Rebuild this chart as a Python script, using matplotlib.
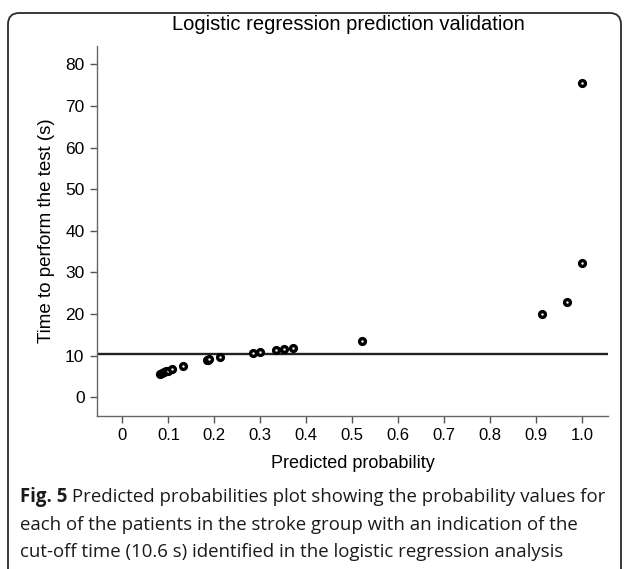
import matplotlib
matplotlib.use("Agg")
import matplotlib.pyplot as plt
from matplotlib.patches import FancyBboxPatch

# ---- data ----
pred_prob = [0.082, 0.086, 0.090, 0.094, 0.098, 0.107, 0.132, 0.183, 0.186, 0.189, 0.213,
             0.285, 0.300, 0.335, 0.352, 0.372, 0.521, 0.914, 0.967, 1.0, 1.0]
time_s = [5.7, 5.9, 6.1, 6.3, 6.4, 6.7, 7.6, 8.9, 9.0, 9.2, 9.6,
          10.7, 10.8, 11.3, 11.5, 11.8, 13.6, 20.1, 22.9, 32.3, 75.4]
cutoff = 10.3
xticks = [0, 0.1, 0.2, 0.3, 0.4, 0.5, 0.6, 0.7, 0.8, 0.9, 1.0]
xtick_labels = ["0", "0.1", "0.2", "0.3", "0.4", "0.5", "0.6", "0.7", "0.8", "0.9", "1.0"]
yticks = [0, 10, 20, 30, 40, 50, 60, 70, 80]

title = "Logistic regression prediction validation"
xlabel = "Predicted probability"
ylabel = "Time to perform the test (s)"
cap_bold = "Fig. 5"
cap_lines = [" Predicted probabilities plot showing the probability values for",
             "each of the patients in the stroke group with an indication of the",
             "cut-off time (10.6 s) identified in the logistic regression analysis"]

W, H = 625, 569
fig = plt.figure(figsize=(W / 100, H / 100), dpi=100)
fig.patch.set_facecolor("white")

# rounded frame
frame = FancyBboxPatch((8 / W, -0.05), (621 - 8) / W, (H - 13) / H + 0.05,
                       boxstyle="round,pad=0,rounding_size=0.018",
                       transform=fig.transFigure, fill=False,
                       edgecolor="#2a2a2a", linewidth=1.3, mutation_aspect=W / H)
fig.patches.append(frame)

ax = fig.add_axes([97 / W, 1 - 416 / H, (608 - 97) / W, (416 - 46) / H])
ax.set_xlim(-0.0555, 1.0568)
ax.set_ylim(-4.49, 84.4)

ax.axhline(cutoff, color="#222222", linewidth=1.7, zorder=2)
ax.plot(pred_prob, time_s, linestyle="none", marker="o", markersize=4.2,
        markerfacecolor="white", markeredgecolor="black", markeredgewidth=2.4,
        zorder=3, clip_on=False)

for side in ["top", "right"]:
    ax.spines[side].set_visible(False)
for side in ["left", "bottom"]:
    ax.spines[side].set_color("#666666")
    ax.spines[side].set_linewidth(1.0)

font = "Liberation Sans"
ax.set_xticks(xticks)
ax.set_xticklabels(xtick_labels, fontfamily=font, fontsize=12)
ax.set_yticks(yticks)
ax.set_yticklabels([str(v) for v in yticks], fontfamily=font, fontsize=12.5)
ax.tick_params(direction="out", length=5, width=1.0, color="#555555", pad=4,
               labelcolor="black")

ax.set_xlabel(xlabel, fontfamily=font, fontsize=13, labelpad=8)
ax.set_ylabel(ylabel, fontfamily=font, fontsize=13.5, labelpad=7)

fig.text(348 / W, 1 - 24 / H, title, fontfamily=font, fontsize=14.5,
         ha="center", va="center")

# caption
cap_font = "Open Sans"
cap_size = 13.4
cap_y = [497, 525, 552]
t_bold = fig.text(20 / W, 1 - cap_y[0] / H, cap_bold, fontfamily=cap_font,
                  fontweight="bold", fontsize=cap_size, va="center", ha="left",
                  color="#1a1a1a")
fig.canvas.draw()
bb = t_bold.get_window_extent()
x_after = bb.x1 / W
fig.text(x_after, 1 - cap_y[0] / H, cap_lines[0], fontfamily=cap_font,
         fontsize=cap_size, va="center", ha="left", color="#1a1a1a")
for line, y in zip(cap_lines[1:], cap_y[1:]):
    fig.text(20 / W, 1 - y / H, line, fontfamily=cap_font, fontsize=cap_size,
             va="center", ha="left", color="#1a1a1a")

fig.savefig("out.png", dpi=100, facecolor="white")
